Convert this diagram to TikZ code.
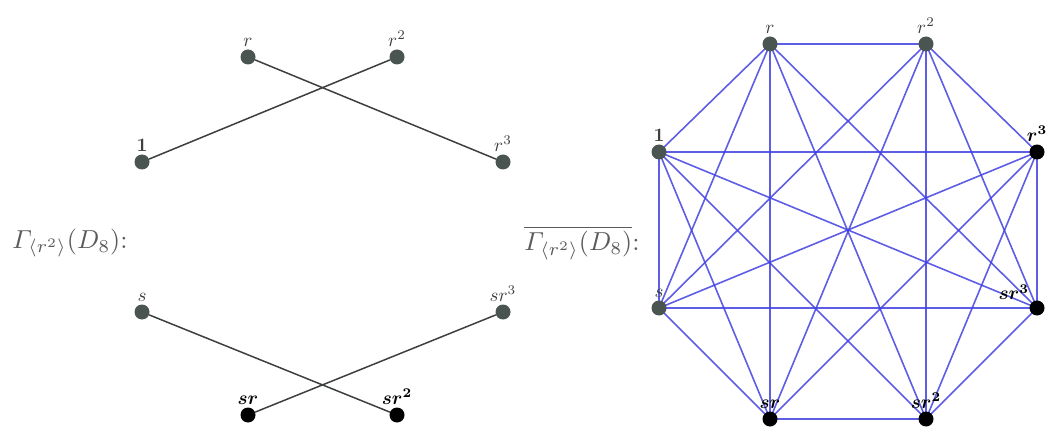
\documentclass[tikz,border=0pt]{standalone}
\usepackage{amsmath,bm,graphicx}
\newcommand\lbl[1]{\scalebox{1.9}{#1}}
\begin{document}
\begin{tikzpicture}[x=1pt,y=-1pt,
  gv/.style={circle,fill={rgb,255:red,74;green,84;blue,80},inner sep=0pt,minimum size=15pt},
  bv/.style={circle,fill=black,inner sep=0pt,minimum size=15pt},
  lab/.style={inner sep=1pt,text={rgb,255:red,60;green,64;blue,62}},
  blab/.style={inner sep=1pt,text=black},
  ge/.style={draw={rgb,255:red,60;green,64;blue,62},line width=1.5pt},
  be/.style={draw={rgb,255:red,65;green,65;blue,225},line width=1.6pt,opacity=0.85},
  big/.style={inner sep=0pt,text={rgb,255:red,90;green,90;blue,90}}]
\useasboundingbox (0,0) rectangle (1051,430);
% left graph
\node[gv,label={[lab,label distance=2pt]above:\lbl{$r$}}] (a) at (248,57) {};
\node[gv,label={[lab,label distance=2pt]above:\lbl{$r^2$}}] (b) at (397,57) {};
\node[gv,label={[lab,label distance=2pt]above:\lbl{$\mathbf{1}$}}] (c) at (142,162) {};
\node[gv,label={[lab,label distance=2pt]above:\lbl{$r^3$}}] (d) at (503,162) {};
\node[gv,label={[lab,label distance=2pt]above:\lbl{$s$}}] (e) at (142,312) {};
\node[gv,label={[lab,label distance=2pt]above:\lbl{$sr^3$}}] (f) at (503,312) {};
\node[bv,label={[blab,label distance=2pt]above:\lbl{$\bm{sr}$}}] (g) at (248,415) {};
\node[bv,label={[blab,label distance=2pt]above:\lbl{$\bm{sr^2}$}}] (h) at (397,415) {};
\draw[ge] (a) -- (d);
\draw[ge] (b) -- (c);
\draw[ge] (e) -- (h);
\draw[ge] (f) -- (g);
\node[big] (t1) at (70,243) {\scalebox{2.6}{$\varGamma_{\langle r^2\rangle}(D_8)$:}};
\node[big] (t2) at (582,243) {\scalebox{2.6}{$\overline{\varGamma_{\langle r^2\rangle}(D_8)}$:}};
% right graph
\coordinate (R) at (770,44);
\coordinate (R2) at (926,44);
\coordinate (O) at (659,152);
\coordinate (R3) at (1037,152);
\coordinate (S) at (659,308);
\coordinate (SR3) at (1037,308);
\coordinate (SR) at (770,419);
\coordinate (SR2) at (926,419);
\foreach \u/\v in {R/R2,R/O,R/S,R/SR,R/SR2,R/SR3,
  R2/R3,R2/S,R2/SR,R2/SR2,R2/SR3,
  O/R3,O/S,O/SR,O/SR2,O/SR3,
  R3/S,R3/SR,R3/SR2,R3/SR3,
  S/SR,S/SR3,
  SR/SR2,SR2/SR3}
  \draw[be] (\u) -- (\v);
\node[gv,label={[lab,label distance=2pt]above:\lbl{$r$}}] (ra) at (R) {};
\node[gv,label={[lab,label distance=2pt]above:\lbl{$r^2$}}] (rb) at (R2) {};
\node[gv,label={[lab,label distance=2pt]above:\lbl{$\mathbf{1}$}}] (rc) at (O) {};
\node[bv,label={[blab,label distance=2pt]above:\lbl{$\bm{r^3}$}}] (rd) at (R3) {};
\node[gv,label={[lab,label distance=2pt]above:\lbl{$s$}}] (re) at (S) {};
\node[bv,label={[blab,label distance=2pt]above left:\lbl{$\bm{sr^3}$}}] (rf) at (SR3) {};
\node[bv,label={[blab,label distance=2pt]above:\lbl{$\bm{sr}$}}] (rg) at (SR) {};
\node[bv,label={[blab,label distance=2pt]above:\lbl{$\bm{sr^2}$}}] (rh) at (SR2) {};
\end{tikzpicture}
\end{document}
